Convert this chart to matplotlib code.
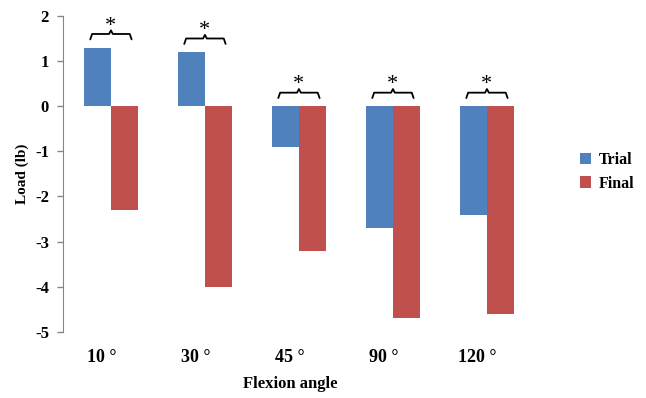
import numpy as np
import matplotlib.pyplot as plt

categories = ["10 °", "30 °", "45 °", "90 °", "120 °"]
trial = [1.3, 1.2, -0.9, -2.7, -2.4]
final = [-2.3, -4.0, -3.2, -4.7, -4.6]

blue = "#4F81BD"
red = "#C0504D"
font = "Liberation Serif"

fig = plt.figure(figsize=(6.46, 3.98), dpi=100)
ax = fig.add_axes([0.0975, 0.166, 0.7276, 0.794])

x = np.arange(len(categories))
w = 0.285
ax.bar(x - w / 2 + 0.01, trial, w, color=blue, label="Trial")
ax.bar(x + w / 2 + 0.01, final, w, color=red, label="Final")

# significance brackets
for i in range(len(categories)):
    top = max(trial[i], final[i], 0) + 0.3
    x0 = i + 0.01 - w + 0.065
    x1 = i + 0.01 + w - 0.065
    xm = i + 0.01
    ax.plot([x0, x0 + 0.02, xm - 0.02, xm, xm + 0.02, x1 - 0.02, x1],
            [top - 0.12, top, top, top + 0.08, top, top, top - 0.12],
            color="black", lw=1.3, solid_capstyle="round", clip_on=False)
    ax.text(xm, top + 0.17, "*", ha="center", va="center", fontsize=16,
            family=font)

ax.set_xlim(-0.5, 4.5)
ax.set_ylim(-5, 2)
ax.set_yticks(range(-5, 3))
ax.set_yticklabels([str(v) for v in range(-5, 3)], family=font,
                   fontweight="bold", fontsize=12)
# category labels sit slightly left of the group centre, as in the source
ax.set_xticks(x - 0.09)
ax.set_xticklabels(categories, family=font, fontweight="bold", fontsize=13)
ax.tick_params(axis="x", length=0, pad=12)
ax.tick_params(axis="y", length=4, color="#868686", width=1, pad=6)

for s in ["top", "right", "bottom"]:
    ax.spines[s].set_visible(False)
ax.spines["left"].set_color("#868686")

ax.set_xlabel("Flexion angle", family=font, fontweight="bold", fontsize=12)
ax.xaxis.set_label_coords(0.483, -0.14)
ax.set_ylabel("Load (lb)", family=font, fontweight="bold", fontsize=11)
ax.yaxis.set_label_coords(-0.072, 0.5)

leg = fig.legend(loc="upper left", bbox_to_anchor=(0.875, 0.655), frameon=False,
                 prop={"family": font, "weight": "bold", "size": 11.5},
                 handlelength=0.7, handleheight=0.7, handletextpad=0.5,
                 labelspacing=0.5)

fig.savefig("out.png", dpi=100)
